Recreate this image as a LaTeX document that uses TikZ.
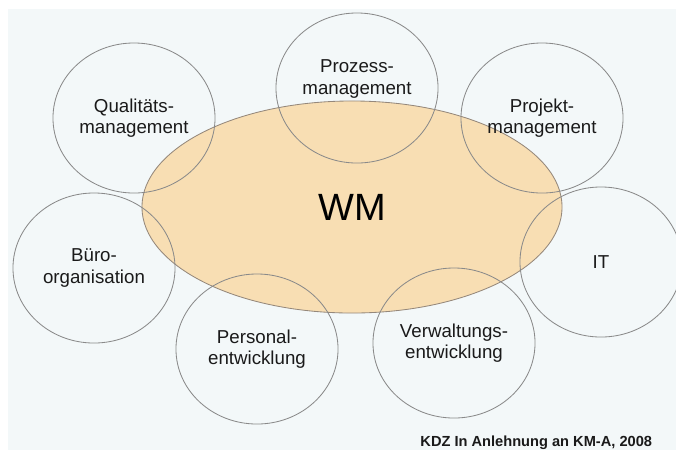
\documentclass[tikz,border=0pt]{standalone}
\usepackage{fontspec}
\setmainfont{Liberation Sans}
\usetikzlibrary{shapes.geometric}
\definecolor{bgblue}{HTML}{F3F8F9}
\definecolor{wmfill}{HTML}{F8DEB3}
\definecolor{ringgray}{HTML}{8A8A8A}
\definecolor{txtgray}{HTML}{1A1A1A}

\begin{document}
\begin{tikzpicture}[x=0.025cm,y=-0.025cm,
	topic/.style={ellipse,draw=ringgray,line width=0.6pt,inner sep=0pt,
		minimum width=4.05cm,minimum height=3.75cm,align=center,
		text=txtgray,font=\fontsize{13.3}{15}\selectfont}]
	\useasboundingbox (0,0) rectangle (676,450);
	\fill[bgblue] (8,9) rectangle (676,450);

	% centre
	\node[ellipse,fill=wmfill,draw=ringgray!80!brown,line width=0.6pt,
		minimum width=10.5cm,minimum height=5.3cm,inner sep=0pt,
		font=\fontsize{27}{30}\selectfont] (WM) at (352,207) {WM};

	% topics round it
	\node[topic] (prozess) at (357,88) {};
	\node[align=center,text=txtgray,font=\fontsize{13.3}{15}\selectfont] (prozesstext) at (357,79) {Prozess-\\management};
	\node[topic] (quali) at (134,118) {Qualitäts-\\management};
	\node[topic] (projekt) at (542,118) {Projekt-\\management};
	\node[topic] (buero) at (94,268) {Büro-\\organisation};
	\node[topic] (it) at (601,262) {IT};
	\node[topic] (personal) at (257,349) {Personal-\\entwicklung};
	\node[topic] (verwaltung) at (454,343) {Verwaltungs-\\entwicklung};

	\node[anchor=base east,font=\bfseries\fontsize{10.4}{12}\selectfont,text=txtgray] (quelle) at (657,446) {KDZ In Anlehnung an KM-A, 2008};
\end{tikzpicture}
\end{document}
